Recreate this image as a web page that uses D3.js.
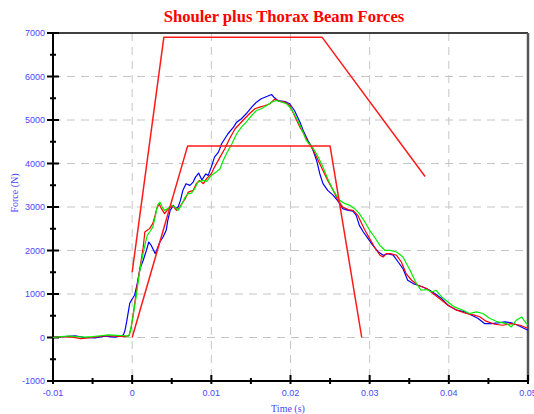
<!DOCTYPE html>
<html>
<head>
<meta charset="utf-8">
<script src="https://cdn.jsdelivr.net/npm/d3@7"></script>
<style>
  body { margin: 0; background: #fff; }
  svg { display: block; }
</style>
</head>
<body>
<div id="chart"></div>
<script>
// tick values
var xTicks = [-0.01, 0, 0.01, 0.02, 0.03, 0.04, 0.05];
var xTickLabels = ["-0.01", "0", "0.01", "0.02", "0.03", "0.04", "0.05"];
var xMinor = [-0.005, 0.005, 0.015, 0.025, 0.035, 0.045];
var yTicks = [-1000, 0, 1000, 2000, 3000, 4000, 5000, 6000, 7000];
var yMinor = [-500, 500, 1500, 2500, 3500, 4500, 5500, 6500];

// corridors [time s, force N]
var outerCorridor = [[0, 1500], [0.004, 6900], [0.024, 6900], [0.037, 3700]];
var innerCorridor = [[0, 0], [0.007, 4400], [0.025, 4400], [0.029, 0]];

// measured curves [time s, force N]
var blueCurve = [[-0.01,0],[-0.0085,20],[-0.0072,40],[-0.006,0],[-0.0047,-10],[-0.0035,30],[-0.0022,10],[-0.0015,30],[-0.0011,60],[-0.0009,170],[-0.0007,358],[-0.0003,788],[-0.0001,856],[0.0003,971],[0.0006,1201],[0.001,1590],[0.0014,1775],[0.0018,2005],[0.0021,2195],[0.0024,2120],[0.0029,1929],[0.0031,2005],[0.0035,2195],[0.0039,2310],[0.0043,2464],[0.0045,2693],[0.0048,2923],[0.0052,3038],[0.0055,2969],[0.0058,2999],[0.0061,3152],[0.0064,3382],[0.0068,3536],[0.0073,3497],[0.0077,3573],[0.008,3687],[0.0084,3780],[0.0088,3620],[0.0093,3760],[0.0096,3727],[0.01,3917],[0.0104,4147],[0.0109,4261],[0.0113,4454],[0.0117,4569],[0.0121,4684],[0.0128,4835],[0.0132,4950],[0.0138,5028],[0.0144,5143],[0.0151,5295],[0.0157,5409],[0.0163,5487],[0.017,5540],[0.0176,5586],[0.0179,5524],[0.0184,5448],[0.0193,5425],[0.0199,5373],[0.0205,5219],[0.0212,4950],[0.0216,4760],[0.0222,4530],[0.0227,4376],[0.0233,4070],[0.0237,3765],[0.0241,3536],[0.0247,3382],[0.0254,3267],[0.026,3136],[0.0266,2962],[0.0273,2923],[0.0279,2907],[0.0283,2808],[0.0287,2578],[0.0292,2425],[0.0298,2273],[0.0304,2119],[0.0311,1965],[0.0317,1890],[0.0323,1929],[0.033,1890],[0.0336,1736],[0.0342,1584],[0.0348,1316],[0.0355,1240],[0.0361,1201],[0.0367,1162],[0.0376,1086],[0.0382,1010],[0.0391,895],[0.0399,742],[0.041,628],[0.042,588],[0.0429,512],[0.0437,436],[0.0445,321],[0.0454,321],[0.0462,335],[0.0471,358],[0.0479,335],[0.0487,282],[0.0498,184],[0.05,170]];

var redCurve = [[-0.01,0],[-0.009,20],[-0.0075,10],[-0.0065,-25],[-0.005,0],[-0.0035,40],[-0.002,30],[-0.001,20],[-0.0004,40],[-0.0001,243],[0.0002,627],[0.0006,1162],[0.001,1621],[0.0014,2080],[0.0016,2425],[0.0019,2464],[0.0022,2503],[0.0026,2617],[0.0029,2808],[0.0031,2962],[0.0034,3077],[0.0037,2962],[0.0041,2847],[0.0044,2923],[0.0048,2999],[0.0052,3015],[0.0056,2923],[0.006,2999],[0.0067,3191],[0.0071,3343],[0.0077,3382],[0.0081,3536],[0.0085,3612],[0.009,3536],[0.0094,3651],[0.01,3765],[0.0104,3917],[0.0111,4147],[0.0117,4339],[0.0123,4569],[0.013,4799],[0.0136,4913],[0.0142,5028],[0.0148,5143],[0.0155,5258],[0.0161,5295],[0.0168,5334],[0.0174,5373],[0.018,5480],[0.0186,5425],[0.0193,5409],[0.0199,5334],[0.0205,5105],[0.0212,4835],[0.0218,4645],[0.0222,4491],[0.0229,4300],[0.0235,4070],[0.0241,3841],[0.0247,3612],[0.0254,3382],[0.026,3152],[0.0266,2999],[0.0273,2939],[0.0279,2923],[0.0285,2808],[0.029,2617],[0.0294,2464],[0.03,2273],[0.0306,2080],[0.0313,1890],[0.0317,1851],[0.0321,1929],[0.0326,1929],[0.0334,1890],[0.034,1736],[0.0346,1469],[0.0353,1316],[0.0361,1201],[0.0372,1125],[0.038,1010],[0.0391,856],[0.0399,742],[0.041,628],[0.0422,551],[0.0431,520],[0.0439,478],[0.0447,375],[0.0458,305],[0.0468,282],[0.0479,321],[0.049,282],[0.0498,225],[0.05,210]];

var greenCurve = [[-0.01,0],[-0.009,20],[-0.008,35],[-0.007,20],[-0.006,10],[-0.005,20],[-0.004,40],[-0.003,60],[-0.002,50],[-0.001,40],[-0.0005,30],[-0.0003,92],[0.0001,473],[0.0005,932],[0.0009,1469],[0.0012,1775],[0.0016,2119],[0.0019,2349],[0.0022,2425],[0.0026,2539],[0.0029,2769],[0.0032,3038],[0.0035,3113],[0.0038,2999],[0.0041,2923],[0.0045,2962],[0.005,3038],[0.0054,2999],[0.0058,2923],[0.0062,3038],[0.0067,3228],[0.0071,3306],[0.0075,3320],[0.0079,3421],[0.0083,3573],[0.009,3612],[0.0094,3589],[0.01,3726],[0.0107,3818],[0.0111,3880],[0.0115,4071],[0.0119,4225],[0.0126,4454],[0.0132,4684],[0.0138,4835],[0.0144,4950],[0.0151,5104],[0.0157,5219],[0.0163,5258],[0.017,5334],[0.0176,5409],[0.0182,5448],[0.0189,5409],[0.0195,5373],[0.0201,5258],[0.0208,5028],[0.0214,4799],[0.022,4530],[0.0229,4339],[0.0235,4147],[0.0241,3917],[0.0247,3651],[0.0254,3382],[0.0262,3152],[0.0269,3077],[0.0275,3038],[0.0281,2962],[0.0287,2847],[0.0294,2654],[0.03,2464],[0.0306,2310],[0.0313,2119],[0.0319,2005],[0.0325,2005],[0.0334,1965],[0.0342,1851],[0.0351,1545],[0.0359,1240],[0.0365,1086],[0.0372,1102],[0.0378,1047],[0.0384,1086],[0.0391,932],[0.0399,817],[0.0407,703],[0.0418,627],[0.0426,551],[0.0435,588],[0.0443,551],[0.0452,436],[0.0462,358],[0.0473,321],[0.0479,243],[0.0485,397],[0.0492,473],[0.0498,321],[0.05,300]];

var W = 534, H = 414;
var margin = {top: 33, right: 6, bottom: 33, left: 53};
var width = W - margin.left - margin.right;
var height = H - margin.top - margin.bottom;
var labelColor = "#4848ff";

var svg = d3.select("#chart")
	.append("svg")
		.attr("width", W)
		.attr("height", H);

var g = svg.append("g")
	.attr("transform", "translate(" + margin.left + "," + margin.top + ")");

var x = d3.scaleLinear().domain([-0.01, 0.05]).range([0, width]);
var y = d3.scaleLinear().domain([-1000, 7000]).range([height, 0]);

// dashed grid
g.selectAll(".vgrid")
	.data(xTicks.slice(1, -1))
	.enter().append("line")
		.attr("x1", function(d) { return x(d); })
		.attr("x2", function(d) { return x(d); })
		.attr("y1", 0).attr("y2", height)
		.attr("stroke", "#c4c4c4")
		.attr("stroke-dasharray", "8,6");
g.selectAll(".hgrid")
	.data(yTicks.slice(1, -1))
	.enter().append("line")
		.attr("x1", 0).attr("x2", width)
		.attr("y1", function(d) { return y(d); })
		.attr("y2", function(d) { return y(d); })
		.attr("stroke", "#c4c4c4")
		.attr("stroke-dasharray", "8,6");

// frame
g.append("line").attr("x1", 0).attr("x2", width).attr("y1", 0).attr("y2", 0)
	.attr("stroke", "#000").attr("stroke-width", 1.5);
g.append("line").attr("x1", width).attr("x2", width).attr("y1", 0).attr("y2", height)
	.attr("stroke", "#555").attr("stroke-width", 2.5);
g.append("line").attr("x1", 0).attr("x2", 0).attr("y1", 0).attr("y2", height)
	.attr("stroke", "#000").attr("stroke-width", 2);
g.append("line").attr("x1", 0).attr("x2", width).attr("y1", height).attr("y2", height)
	.attr("stroke", "#000").attr("stroke-width", 2);

// ticks
g.selectAll(".ytick")
	.data(yTicks)
	.enter().append("line")
		.attr("x1", -6).attr("x2", 6)
		.attr("y1", function(d) { return y(d); })
		.attr("y2", function(d) { return y(d); })
		.attr("stroke", "#000").attr("stroke-width", 2);
g.selectAll(".yminor")
	.data(yMinor)
	.enter().append("line")
		.attr("x1", -3).attr("x2", 3)
		.attr("y1", function(d) { return y(d); })
		.attr("y2", function(d) { return y(d); })
		.attr("stroke", "#000").attr("stroke-width", 2);
g.selectAll(".xtick")
	.data(xTicks)
	.enter().append("line")
		.attr("x1", function(d) { return x(d); })
		.attr("x2", function(d) { return x(d); })
		.attr("y1", height - 6).attr("y2", height + 3)
		.attr("stroke", "#000").attr("stroke-width", 2);
g.selectAll(".xminor")
	.data(xMinor)
	.enter().append("line")
		.attr("x1", function(d) { return x(d); })
		.attr("x2", function(d) { return x(d); })
		.attr("y1", height - 3).attr("y2", height + 3)
		.attr("stroke", "#000").attr("stroke-width", 2);

// tick labels
g.selectAll(".ylabel")
	.data(yTicks)
	.enter().append("text")
		.attr("x", -8)
		.attr("y", function(d) { return y(d); })
		.attr("dy", "0.35em")
		.attr("text-anchor", "end")
		.style("font", "9px 'Liberation Sans', Arial, sans-serif")
		.style("fill", labelColor)
		.text(function(d) { return d; });
g.selectAll(".xlabel")
	.data(xTicks)
	.enter().append("text")
		.attr("x", function(d) { return x(d); })
		.attr("y", height + 15)
		.attr("text-anchor", "middle")
		.style("font", "9px 'Liberation Sans', Arial, sans-serif")
		.style("fill", labelColor)
		.text(function(d, i) { return xTickLabels[i]; });

// curves
var line = d3.line()
	.x(function(d) { return x(d[0]); })
	.y(function(d) { return y(d[1]); });

var series = [
	{data: blueCurve, color: "#0000ff", w: 1.2},
	{data: redCurve, color: "#ff0000", w: 1.2},
	{data: greenCurve, color: "#00ee00", w: 1.2},
	{data: outerCorridor, color: "#ff1a1a", w: 1.5},
	{data: innerCorridor, color: "#ff1a1a", w: 1.5}
];
series.forEach(function(s) {
	g.append("path")
		.datum(s.data)
		.attr("d", line)
		.attr("fill", "none")
		.attr("stroke", s.color)
		.attr("stroke-width", s.w)
		.attr("stroke-linejoin", "round");
});

// titles
svg.append("text")
	.attr("x", 284)
	.attr("y", 22)
	.attr("text-anchor", "middle")
	.style("font", "bold 16.6px 'Liberation Serif', 'Times New Roman', serif")
	.style("fill", "#ff0000")
	.text("Shouler plus Thorax Beam Forces");

svg.append("text")
	.attr("x", 288)
	.attr("y", 412)
	.attr("text-anchor", "middle")
	.style("font", "10px 'Liberation Serif', 'Times New Roman', serif")
	.style("fill", labelColor)
	.text("Time (s)");

svg.append("text")
	.attr("transform", "translate(18,193) rotate(-90)")
	.attr("text-anchor", "middle")
	.style("font", "10px 'Liberation Serif', 'Times New Roman', serif")
	.style("fill", labelColor)
	.text("Force (N)");
</script>
</body>
</html>
